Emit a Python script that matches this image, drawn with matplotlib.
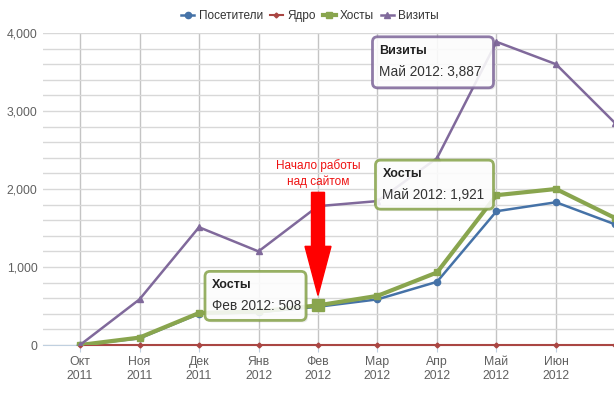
import matplotlib
matplotlib.use('Agg')
import matplotlib.pyplot as plt
from matplotlib.patches import FancyBboxPatch, FancyArrow
from matplotlib.ticker import MultipleLocator, FuncFormatter


months = ['Окт\n2011', 'Ноя\n2011', 'Дек\n2011', 'Янв\n2012', 'Фев\n2012',
          'Мар\n2012', 'Апр\n2012', 'Май\n2012', 'Июн\n2012', 'Июл\n2012']
visitors = [0, 85, 400, 420, 490, 585, 810, 1715, 1830, 1545]
core = [0, 0, 0, 0, 0, 0, 0, 0, 0, 0]
hosts = [0, 95, 410, 430, 508, 630, 930, 1921, 2000, 1625]
visits = [0, 585, 1510, 1200, 1780, 1845, 2395, 3887, 3600, 2840]

series_names = ['Посетители', 'Ядро', 'Хосты', 'Визиты']
colors = ['#4572A7', '#AA4643', '#89A54E', '#80699B']

FONT = 'Liberation Sans'
W, H = 614, 408


def to_px(ax, i, v):
    # data -> display pixels (origin bottom-left)
    return ax.transData.transform((i, v))


def tooltip(fig, ax, i, v, color, title, body, left, top, w, h):
    px, py = to_px(ax, i, v)
    x0 = px + left
    y1 = py + top
    shadow = FancyBboxPatch((x0 + 2, y1 - h - 2), w, h, boxstyle='round,pad=0,rounding_size=5',
                            transform=None, facecolor='#000000', alpha=0.08, edgecolor='none', zorder=9)
    box = FancyBboxPatch((x0, y1 - h), w, h, boxstyle='round,pad=0,rounding_size=5',
                         transform=None, facecolor='white', alpha=0.88, edgecolor=color,
                         linewidth=2, zorder=10)
    fig.patches.append(shadow)
    fig.patches.append(box)
    fig.text((x0 + 7) / W, (y1 - 14) / H, title, fontsize=9, fontweight='bold', color='#222222',
             va='center', ha='left', family=FONT, zorder=11)
    fig.text((x0 + 7) / W, (y1 - 35) / H, body, fontsize=9.8, color='#333333',
             va='center', ha='left', family=FONT, zorder=11)


def main():
    fig = plt.figure(figsize=(W / 100, H / 100), dpi=100)
    ax = fig.add_axes([43 / W, 1 - 345 / H, (W - 43) / W, (345 - 33) / H])

    x = list(range(len(months)))

    ax.plot(x, visitors, color=colors[0], lw=1.8, marker='o', ms=4.5, label=series_names[0], zorder=4)
    ax.plot(x, core, color=colors[1], lw=1.5, marker='D', ms=2.5, label=series_names[1],
            zorder=5, clip_on=False)
    ax.plot(x, hosts, color=colors[2], lw=3, marker='s', ms=5, label=series_names[2], zorder=6)
    ax.plot(x, visits, color=colors[3], lw=1.8, marker='^', ms=4.5, label=series_names[3], zorder=7)
    # hovered point
    ax.plot([x[4]], [hosts[4]], color=colors[2], marker='s', ms=9, ls='none', zorder=8)

    ax.set_xlim(-0.622, 8.975)
    ax.set_ylim(0, 4000)

    ax.set_xticks(x[:9])
    ax.set_xticklabels(months[:9], family=FONT, fontsize=8.8, color='#606060', linespacing=1.25)
    ax.yaxis.set_major_locator(MultipleLocator(1000))
    ax.yaxis.set_minor_locator(MultipleLocator(200))
    ax.yaxis.set_major_formatter(FuncFormatter(lambda v, p: '{:,.0f}'.format(v)))
    for lab in ax.get_yticklabels():
        lab.set_family(FONT)
        lab.set_fontsize(8.8)
        lab.set_color('#606060')

    ax.tick_params(axis='y', which='both', length=0, pad=4)
    ax.tick_params(axis='x', length=5, color='#C0D0E0', pad=3)

    ax.grid(True, axis='y', which='both', color='#d8d8d8', lw=1)
    ax.grid(True, axis='x', which='major', color='#c4c4c4', lw=1)
    ax.set_axisbelow(True)
    for s in ['top', 'right', 'left']:
        ax.spines[s].set_visible(False)
    ax.spines['bottom'].set_color('#C0D0E0')

    leg = fig.legend(loc='center', bbox_to_anchor=(310 / W, 1 - 16 / H), ncol=4, frameon=False,
                     handlelength=1.1, handletextpad=0.35, columnspacing=0.6,
                     prop={'family': FONT, 'size': 8.5})
    for t in leg.get_texts():
        t.set_color('#333333')

    fig.canvas.draw()

    tooltip(fig, ax, 7, visits[7], colors[3], 'Визиты', 'Май 2012: 3,887', -124, 5, 121, 51)
    tooltip(fig, ax, 7, hosts[7], colors[2], 'Хосты', 'Май 2012: 1,921', -121, 35, 118, 49)
    tooltip(fig, ax, 4, hosts[4], colors[2], 'Хосты', 'Фев 2012: 508', -113, 34, 101, 49)

    # red arrow above Feb
    px, py = to_px(ax, 4, hosts[4])
    arrow = FancyArrow(px, py + 113, 0, -103, width=13, head_width=26, head_length=49,
                       length_includes_head=True, transform=None, color='#FF0000', zorder=12)
    fig.patches.append(arrow)
    fig.text(px / W, (py + 132) / H, 'Начало работы\nнад сайтом', color='#EE1111', fontsize=8.5,
             ha='center', va='center', family=FONT, linespacing=1.3, zorder=12)

    plt.savefig('out.png', dpi=100)


if __name__ == "__main__":
    main()
